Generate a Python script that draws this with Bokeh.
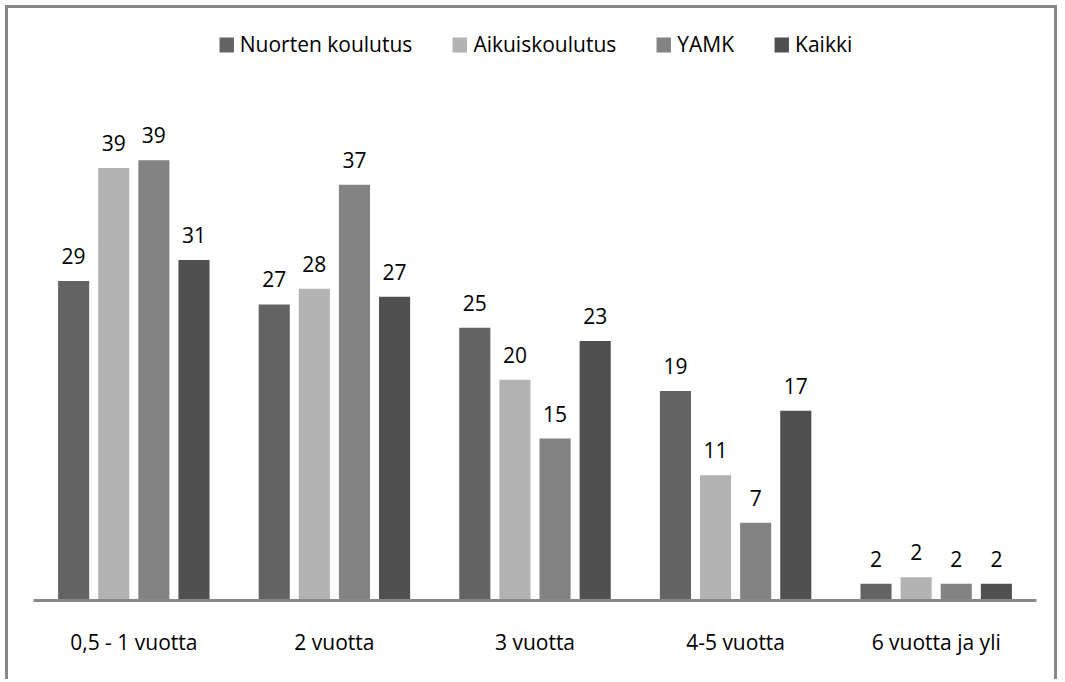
from bokeh.plotting import figure
from bokeh.models import ColumnDataSource, Range1d, FactorRange, Legend, LegendItem
from bokeh.transform import dodge
from bokeh.core.properties import value
from bokeh.embed import file_html
from bokeh.resources import INLINE

categories = ["0,5 - 1 vuotta", "2 vuotta", "3 vuotta", "4-5 vuotta", "6 vuotta ja yli"]
series_names = ["Nuorten koulutus", "Aikuiskoulutus", "YAMK", "Kaikki"]

# bar heights and the printed data labels
nuorten = [28.8, 26.7, 24.6, 18.9, 1.5]
aikuis = [39.0, 28.1, 19.9, 11.3, 2.1]
yamk = [39.7, 37.5, 14.6, 7.0, 1.5]
kaikki = [30.7, 27.4, 23.4, 17.1, 1.5]

nuorten_lbl = [29, 27, 25, 19, 2]
aikuis_lbl = [39, 28, 20, 11, 2]
yamk_lbl = [39, 37, 15, 7, 2]
kaikki_lbl = [31, 27, 23, 17, 2]

colors = ["#636363", "#b3b3b3", "#838383", "#505050"]
offsets = [-0.3, -0.1, 0.1, 0.3]
FONT = "Open Sans"

src = ColumnDataSource(dict(
    cat=categories,
    s0=nuorten, s1=aikuis, s2=yamk, s3=kaikki,
    l0=[str(v) for v in nuorten_lbl], l1=[str(v) for v in aikuis_lbl],
    l2=[str(v) for v in yamk_lbl], l3=[str(v) for v in kaikki_lbl],
))

p = figure(x_range=FactorRange(factors=categories, range_padding=0),
           y_range=Range1d(0, 52.3),
           width=1052, height=674, output_backend="svg", toolbar_location=None,
           min_border_left=25, min_border_right=24, min_border_top=12, min_border_bottom=82)

p.styles = {"margin-left": "5px", "margin-top": "5px",
            "border-top": "3px solid #878787", "border-left": "3px solid #878787",
            "border-right": "3px solid #878787"}

items = []
for i in range(4):
    r = p.vbar(x=dodge("cat", offsets[i], range=p.x_range), top=f"s{i}", width=0.155,
               source=src, fill_color=colors[i], line_color=None)
    items.append(LegendItem(label=series_names[i], renderers=[r]))
    p.text(x=dodge("cat", offsets[i], range=p.x_range), y=f"s{i}", text=f"l{i}",
           source=src, text_align="center", text_baseline="alphabetic", y_offset=-25,
           text_font=value(FONT), text_font_size="21px", text_color="#000000")

legend = Legend(items=items, orientation="horizontal", location="top_center",
                glyph_width=18, glyph_height=19, label_standoff=5, spacing=38,
                padding=0, margin=10, border_line_color=None, background_fill_alpha=0,
                label_text_font=FONT, label_text_font_size="21px", label_text_color="#000000")
p.add_layout(legend)

p.yaxis.visible = False
p.xgrid.visible = False
p.ygrid.visible = False
p.outline_line_color = None
p.xaxis.axis_line_color = "#888888"
p.xaxis.axis_line_width = 3
p.xaxis.major_tick_line_color = None
p.xaxis.minor_tick_line_color = None
p.xaxis.major_tick_out = 0
p.xaxis.major_tick_in = 0
p.xaxis.major_label_standoff = 27
p.xaxis.major_label_text_font = FONT
p.xaxis.major_label_text_font_size = "21px"
p.xaxis.major_label_text_color = "#000000"

open("out.html", "w").write(file_html(p, INLINE))
